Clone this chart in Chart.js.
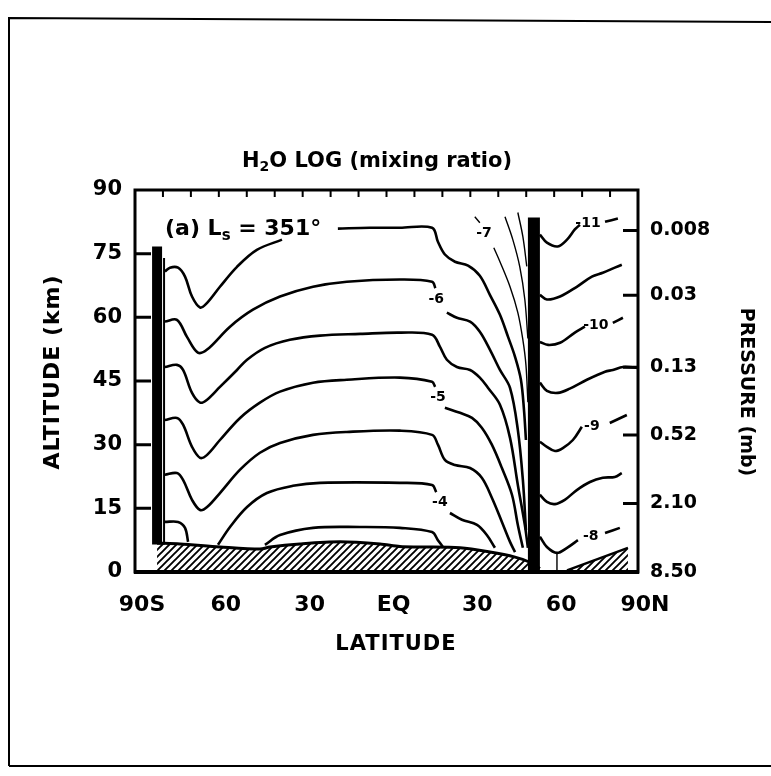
<!DOCTYPE html>
<html>
<head>
<meta charset="utf-8">
<title>H2O LOG (mixing ratio)</title>
<script src="https://cdn.jsdelivr.net/npm/chart.js@4.4.1/dist/chart.umd.min.js"></script>
<style>
  html, body { margin: 0; padding: 0; background: #fff; }
  #wrap { width: 771px; height: 776px; }
</style>
</head>
<body>
<div id="wrap"><canvas id="h2oChart" width="771" height="776"></canvas></div>
<script>
// axes: latitude in degrees (south negative), altitude in km, pressure in mb
const latTicks = [-90, -60, -30, 0, 30, 60, 90];
const latLabels = ['90S', '60', '30', 'EQ', '30', '60', '90N'];
const altTicks = [0, 15, 30, 45, 60, 75, 90];
const pressureTicks = [8.5, 2.1, 0.52, 0.13, 0.03, 0.008];
const pressureLabels = ['8.50', '2.10', '0.52', '0.13', '0.03', '0.008'];
const pressureTop = 0.0035;

// contour lines of log10 mixing ratio, points are [lat, alt]
const southTop = [[-79.3,70.8],[-77.5,71.7],[-74.6,71.7],[-72.1,69.6],[-69.6,64.9],[-66.7,62.3],[-64.2,63.4],[-59.6,67.2],[-53.5,71.9],[-46.4,75.9],[-37.4,78.3]];
const crest81 = [[-17.4,80.9],[-6,81.1],[4.8,81.1],[16.3,81.1],[18.4,77.8],[20.9,74.8],[24.5,73.1],[29.2,72.2],[33.4,69.8],[37,65.3],[40.6,60.6],[43.5,55.4],[46,50.7],[48.1,45.3],[49.2,38.2],[49.9,31.1]];
const minus6a = [[-79.3,59],[-75,59.4],[-71.4,55.4],[-67.5,51.7],[-64.2,52.4],[-56,57.8],[-47.8,61.8],[-38.1,64.9],[-26.3,67.2],[-14.2,68.4],[4.8,68.9],[16.3,68.4],[17.5,66.9]];
const minus6b = [[21.6,61.1],[25.2,59.9],[29.9,59],[33.4,56.6],[37,52.4],[40.6,47.6],[44.2,43.4],[47,33.5],[48.8,21.7],[49.9,9.9]];
const crest56 = [[-79.3,48.3],[-75,48.8],[-72.8,47.6],[-69.6,42.2],[-66.7,39.9],[-64.2,40.6],[-59.6,43.6],[-53.5,47.6],[-49.9,50],[-43.5,52.8],[-34.6,54.7],[-23.8,55.7],[-9.4,56.1],[4.8,56.4],[16.3,55.9],[19.1,53.1],[21.6,50],[25.2,48.3],[29.9,47.6],[33.4,45.8],[36.3,43.4],[40.6,39.4],[44.2,31.6],[47,20.5],[49.5,11.1],[50.6,5.7]];
const minus5a = [[-79.3,35.8],[-75,36.3],[-72.8,34.7],[-69.6,29.5],[-66.7,26.9],[-64.2,27.6],[-59.6,31.1],[-52.4,36.3],[-45.3,39.9],[-38.1,42.5],[-26.3,44.6],[-14.2,45.3],[4.8,45.8],[16.3,44.8],[17.4,43.6]];
const minus5b = [[20.9,38.7],[26.3,37.5],[30.6,36.3],[34.1,34],[37.7,30],[41.3,24.5],[44.9,18.2],[47,11.1],[48.8,5.7]];
const crest33 = [[-79.3,22.9],[-75,23.3],[-72.8,21.7],[-69.6,17],[-66.7,14.6],[-64.2,15.3],[-59.6,18.6],[-52.4,24.1],[-45.3,28.1],[-38.1,30.4],[-26.3,32.3],[-14.2,33],[4.8,33.3],[16.3,32.3],[18.4,30],[20.9,26.4],[24.5,25.2],[29.9,24.5],[34.1,22.2],[37.7,17.5],[41.3,11.8],[44.2,7.1],[46,4.7]];
const polarLoop = [[-79.3,11.8],[-74.6,11.8],[-72.1,10.4],[-71,7.1]];
const minus4a = [[-60.3,6.4],[-56,10.6],[-49.9,15.3],[-42.8,18.6],[-33.5,20.3],[-23.8,21],[4.8,21],[16.3,20.5],[17.8,18.8]];
const minus4b = [[22.7,13.9],[27,12.3],[32.4,11.1],[35.9,8.7],[38.8,5.7]];
const crest10 = [[-43.5,6.4],[-38.1,8.7],[-26.3,10.4],[-9.5,10.6],[4.8,10.4],[16.3,9.4],[18.4,7.5],[20.2,5.9]];
const minus7a = [[31.6,83.7],[33.4,82.3]];
const minus7b = [[38.4,76.4],[40.6,73.1],[44.2,67.2],[47,61.1],[48.8,54.7],[49.9,48.8],[50.6,40]];
const steep75 = [[42.4,83.7],[45.2,78.3],[47.7,71.9],[49.5,64.2],[50.6,55]];
const steep8 = [[47,84.7],[48.8,79],[50.2,72]];
const north11a = [[54.9,79.5],[57.4,77.6],[61.3,76.7],[64.6,78.3],[67.4,80.7],[69.2,81.8]];
const north11b = [[78.2,82.5],[82.8,83.3]];
const north105 = [[54.9,65.3],[57.4,64.2],[62.1,64.9],[68.1,67.2],[73.5,69.6],[77.4,70.5],[81.7,71.7],[84.2,72.4]];
const north10a = [[54.9,54.2],[57.8,53.5],[62.1,54],[67.4,56.4],[71,57.8]];
const north10b = [[81,58.7],[84.6,59.9]];
const north95 = [[54.9,44.6],[57.4,42.7],[61.3,42.2],[65.6,43.2],[71.7,45.3],[78.2,47.2],[81,47.6],[84.6,48.3],[90,48.1]];
const north9a = [[54.9,30.7],[57.4,29.5],[60.3,28.5],[63.1,29.2],[66.7,31.1],[69.9,34.2]];
const north9b = [[79.9,35.1],[86,37]];
const north85 = [[54.9,18.2],[57.4,16.5],[60.3,16],[63.8,17],[68.1,19.3],[72.8,21.2],[77.4,22.2],[81.7,22.4],[84.2,23.3]];
const north8a = [[54.9,8.3],[57.4,5.9],[61,4.5],[64.6,5.7],[68.5,7.5]];
const north8b = [[78.2,9.2],[83.5,10.4]];
const north8stem = [[61,4.5],[61,0]];

// topography (hatched) and the two vertical bars
const surface = [[-82.1,6.8],[-73.9,6.6],[-59.6,5.9],[-45.3,5.4],[-41.7,5.9],[-31,6.6],[-16.7,7.1],[-2.3,6.6],[4.8,6.0],[12,5.9],[26.3,5.7],[37,4.7],[46,3.5],[51.3,2.3],[54.9,0.8]];
const northHatch = [[64.6,0.4],[86.4,5.7]];
const southBar = [[-82.1,6.5],[-82.1,76.7]];
const southBarEdge = [[-79.6,6.5],[-79.6,74]];
const northBar = [[52.75,0],[52.75,83.5]];

// contour value labels: [text, lat, alt]
const contourLabels = [['-6',17.8,64.2],['-5',18.4,41.2],['-4',19.1,16.5],['-7',34.9,79.7],['-11',72.1,82.1],['-10',74.9,58],['-9',73.5,34.4],['-8',73.1,8.3]];

const FONT = "'DejaVu Sans', sans-serif";
Chart.defaults.font.family = FONT;
Chart.defaults.color = '#000';

const pts = a => a.map(([x, y]) => ({ x, y }));

function line(arr, width, extra) {
  return Object.assign({
    data: pts(arr),
    borderColor: '#000',
    borderWidth: width,
    pointRadius: 0,
    tension: 0.35,
    fill: false,
    order: 2
  }, extra || {});
}

function hatchPattern() {
  const c = document.createElement('canvas');
  c.width = 7; c.height = 7;
  const g = c.getContext('2d');
  g.strokeStyle = '#000';
  g.lineWidth = 1.9;
  g.beginPath();
  g.moveTo(-1, 8); g.lineTo(8, -1);
  g.moveTo(-1, 1); g.lineTo(1, -1);
  g.moveTo(6, 8); g.lineTo(8, 6);
  g.stroke();
  return g.createPattern(c, 'repeat');
}

const hatch = hatchPattern();
const thick = 2.6, thin = 1.4;

const datasets = [
  line(southBar, 10, { order: 0, tension: 0, borderCapStyle: 'butt' }),
  line(southBarEdge, 2, { order: 0, tension: 0 }),
  line(northBar, 12, { order: 0, tension: 0, borderCapStyle: 'butt' }),
  line(surface, 3, { order: 3, fill: 'origin', backgroundColor: hatch, tension: 0.3 }),
  line(northHatch, 2.5, { order: 3, fill: 'origin', backgroundColor: hatch, tension: 0 }),
  line(southTop, thick), line(crest81, thick),
  line(minus6a, thick), line(minus6b, thick),
  line(crest56, thick),
  line(minus5a, thick), line(minus5b, thick),
  line(crest33, thick), line(polarLoop, thick),
  line(minus4a, thick), line(minus4b, thick),
  line(crest10, thick),
  line(minus7a, thin), line(minus7b, thin), line(steep75, thin), line(steep8, thin),
  line(north11a, thick), line(north11b, thick),
  line(north105, thick),
  line(north10a, thick), line(north10b, thick),
  line(north95, thick),
  line(north9a, thick), line(north9b, thick),
  line(north85, thick),
  line(north8a, thick), line(north8b, thick),
  line(north8stem, thin, { tension: 0 })
];

// text made of runs so subscripts can be lowered and shrunk
function drawRuns(ctx, runs, x, y, center) {
  let w = 0;
  runs.forEach(r => { ctx.font = `bold ${r.size}px ${FONT}`; w += ctx.measureText(r.text).width; });
  let cx = center ? x - w / 2 : x;
  ctx.textAlign = 'left';
  ctx.textBaseline = 'alphabetic';
  runs.forEach(r => {
    ctx.font = `bold ${r.size}px ${FONT}`;
    ctx.fillText(r.text, cx, y + (r.dy || 0));
    cx += ctx.measureText(r.text).width;
  });
}

function rotatedText(ctx, text, x, y, angle, size, spacing) {
  ctx.save();
  ctx.translate(x, y);
  ctx.rotate(angle);
  ctx.font = `bold ${size}px ${FONT}`;
  if ('letterSpacing' in ctx) ctx.letterSpacing = spacing + 'px';
  ctx.textAlign = 'center';
  ctx.textBaseline = 'middle';
  ctx.fillText(text, 0, 0);
  ctx.restore();
}

const framePlugin = {
  id: 'framePlugin',
  afterDraw(chart) {
    const { ctx, chartArea: a, scales } = chart;
    ctx.save();
    ctx.strokeStyle = '#000';
    ctx.fillStyle = '#000';

    // page border
    ctx.lineWidth = 2;
    ctx.beginPath();
    ctx.moveTo(9, 766); ctx.lineTo(9, 18); ctx.lineTo(771, 22);
    ctx.moveTo(9, 766); ctx.lineTo(771, 766);
    ctx.stroke();

    // plot frame
    ctx.lineWidth = 3;
    ctx.strokeRect(a.left, a.top, a.right - a.left, a.bottom - a.top);
    ctx.lineWidth = 4;
    ctx.beginPath();
    ctx.moveTo(a.left - 1, a.bottom); ctx.lineTo(a.right + 1, a.bottom);
    ctx.stroke();

    // inward ticks
    ctx.lineWidth = 2;
    ctx.beginPath();
    scales.x.ticks.forEach(t => {
      if (t.value <= -90 || t.value >= 90) return;
      const px = scales.x.getPixelForValue(t.value);
      ctx.moveTo(px, a.top); ctx.lineTo(px, a.top + 7);
    });
    ctx.stroke();
    ctx.lineWidth = 3;
    ctx.beginPath();
    scales.y.ticks.forEach(t => {
      if (t.value <= 0 || t.value >= 90) return;
      const py = scales.y.getPixelForValue(t.value);
      ctx.moveTo(a.left, py); ctx.lineTo(a.left + 16, py);
    });
    scales.yP.ticks.forEach(t => {
      if (t.value >= 8.5) return;
      const py = scales.yP.getPixelForValue(t.value);
      ctx.moveTo(a.right - 15, py); ctx.lineTo(a.right, py);
    });
    ctx.stroke();

    // title and panel tag
    drawRuns(ctx, [
      { text: 'H', size: 21 },
      { text: '2', size: 14, dy: 4 },
      { text: 'O LOG (mixing ratio)', size: 21 }
    ], 377, 167, true);
    drawRuns(ctx, [
      { text: '(a) L', size: 22 },
      { text: 's', size: 15, dy: 5 },
      { text: ' = 351°', size: 22 }
    ], a.left + 30, a.top + 45, false);

    // axis titles
    rotatedText(ctx, 'ALTITUDE (km)', 53, 372, -Math.PI / 2, 22, 1);
    rotatedText(ctx, 'PRESSURE (mb)', 746, 392, Math.PI / 2, 19, 0);
    rotatedText(ctx, 'LATITUDE', 396, 645, 0, 21, 1);

    // contour labels
    ctx.font = `bold 14px ${FONT}`;
    ctx.textAlign = 'center';
    ctx.textBaseline = 'middle';
    contourLabels.forEach(([txt, lat, alt]) => {
      ctx.fillText(txt, scales.x.getPixelForValue(lat), scales.y.getPixelForValue(alt));
    });
    ctx.restore();
  }
};

new Chart(document.getElementById('h2oChart'), {
  type: 'line',
  data: { datasets },
  options: {
    responsive: false,
    animation: false,
    layout: { padding: { top: 190, left: 0, right: 0, bottom: 0 } },
    plugins: { legend: { display: false }, tooltip: { enabled: false }, title: { display: false } },
    scales: {
      x: {
        type: 'linear', position: 'bottom', min: -90, max: 90, bounds: 'data',
        grid: { display: false, drawTicks: false }, border: { display: false },
        ticks: {
          stepSize: 10, autoSkip: false, maxRotation: 0, padding: 20, labelOffset: 7,
          font: { size: 22, weight: 'bold' },
          callback: v => { const i = latTicks.indexOf(v); return i < 0 ? '' : latLabels[i]; }
        },
        afterFit: s => { s.height = 204; }
      },
      y: {
        type: 'linear', position: 'left', min: 0, max: 90, bounds: 'data',
        grid: { display: false, drawTicks: false }, border: { display: false },
        afterBuildTicks: s => { s.ticks = altTicks.map(v => ({ value: v })); },
        ticks: { padding: 13, font: { size: 21, weight: 'bold' } },
        afterFit: s => { s.width = 135; }
      },
      yP: {
        type: 'logarithmic', position: 'right', min: pressureTop, max: 8.5, reverse: true, bounds: 'data',
        grid: { display: false, drawTicks: false }, border: { display: false },
        afterBuildTicks: s => { s.ticks = pressureTicks.map(v => ({ value: v })); },
        ticks: { padding: 12, font: { size: 19, weight: 'bold' }, callback: (v, i) => pressureLabels[i] },
        afterFit: s => { s.width = 133; }
      }
    }
  },
  plugins: [framePlugin]
});
</script>
</body>
</html>
